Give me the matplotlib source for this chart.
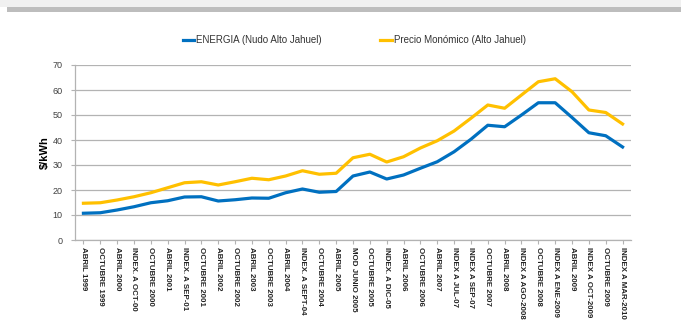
import matplotlib
matplotlib.use("Agg")
import matplotlib.pyplot as plt
from matplotlib.patches import Rectangle

categories = ["ABRIL 1999", "OCTUBRE 1999", "ABRIL 2000", "INDEX. A OCT-00", "OCTUBRE 2000",
              "ABRIL 2001", "INDEX. A SEP-01", "OCTUBRE 2001", "ABRIL 2002", "OCTUBRE 2002",
              "ABRIL 2003", "OCTUBRE 2003", "ABRIL 2004", "INDEX. A SEPT-04", "OCTUBRE 2004",
              "ABRIL 2005", "MOD JUNIO 2005", "OCTUBRE 2005", "INDEX. A DIC-05", "ABRIL 2006",
              "OCTUBRE 2006", "ABRIL 2007", "INDEX A JUL-07", "INDEX A SEP-07", "OCTUBRE 2007",
              "ABRIL 2008", "INDEX A AGO-2008", "OCTUBRE 2008", "INDEX A ENE-2009", "ABRIL 2009",
              "INDEX A OCT-2009", "OCTUBRE 2009", "INDEX A MAR-2010"]

energia = [10.7, 10.9, 12.0, 13.3, 14.9, 15.7, 17.2, 17.3, 15.6, 16.1,
           16.8, 16.7, 18.9, 20.4, 19.1, 19.4, 25.6, 27.2, 24.4, 26.0,
           28.7, 31.3, 35.3, 40.3, 45.9, 45.3, 50.0, 54.9, 54.9, 49.0,
           42.9, 41.7, 37.2]

precio = [14.7, 14.9, 16.0, 17.3, 18.9, 20.9, 22.9, 23.3, 22.0, 23.3,
          24.7, 24.1, 25.6, 27.7, 26.3, 26.7, 32.9, 34.3, 31.2, 33.3,
          36.8, 39.7, 43.6, 48.7, 54.0, 52.7, 58.0, 63.3, 64.5, 59.3,
          52.0, 51.0, 46.4]

yticks = [0, 10, 20, 30, 40, 50, 60, 70]

BLUE = "#0070C0"
YELLOW = "#FFC000"
GRID = "#B3B3B3"
FONT = ["Liberation Sans Narrow", "Liberation Sans", "DejaVu Sans"]

fig = plt.figure(figsize=(6.81, 3.20), dpi=100)
fig.patch.set_facecolor("white")
# top decorative bands
fig.patches.append(Rectangle((0, 1 - 7 / 320), 1, 7 / 320, transform=fig.transFigure,
                             facecolor="#F0F0F0", edgecolor="none", zorder=0))
fig.patches.append(Rectangle((7 / 681, 1 - 12 / 320), 1, 5 / 320, transform=fig.transFigure,
                             facecolor="#BDBDBD", edgecolor="none", zorder=0))

ax = fig.add_axes([75 / 681, 1 - 240 / 320, 556 / 681, 175 / 320])
x = list(range(len(categories)))
l1, = ax.plot(x, energia, color=BLUE, lw=2.3, solid_joinstyle="round", label="ENERGIA (Nudo Alto Jahuel)", zorder=3)
l2, = ax.plot(x, precio, color=YELLOW, lw=2.3, solid_joinstyle="round", label="Precio Monómico (Alto Jahuel)", zorder=3)

ax.set_xlim(-0.5, len(categories) - 0.5)
ax.set_ylim(0, 70)
ax.set_yticks(yticks)
ax.set_yticklabels([str(v) for v in yticks], fontsize=6.5, color="#404040", family=FONT)
ax.set_xticks(x)
ax.set_xticklabels(categories, rotation=-90, fontsize=5.7, fontweight="bold",
                   family=FONT, color="#222222", va="top", ha="center")
ax.tick_params(axis="y", length=3, color=GRID, pad=6)
ax.tick_params(axis="x", length=3, color=GRID, pad=2)
ax.grid(axis="y", color=GRID, lw=0.9)
ax.set_axisbelow(True)
for s in ["top", "right"]:
    ax.spines[s].set_visible(False)
for s in ["left", "bottom"]:
    ax.spines[s].set_color(GRID)
    ax.spines[s].set_linewidth(0.9)

ax.set_ylabel("\\$/kWh", fontsize=8, fontweight="bold", family=FONT, labelpad=2)

leg = fig.legend(handles=[l1, l2], loc="center", bbox_to_anchor=(0.52, 1 - 40 / 320), ncol=2,
                 frameon=False, handlelength=1.2, handletextpad=0.2,
                 columnspacing=6.0, prop={"family": FONT, "size": 7})
for t in leg.get_texts():
    t.set_color("#333333")

fig.savefig("out.png", dpi=100, facecolor="white")
